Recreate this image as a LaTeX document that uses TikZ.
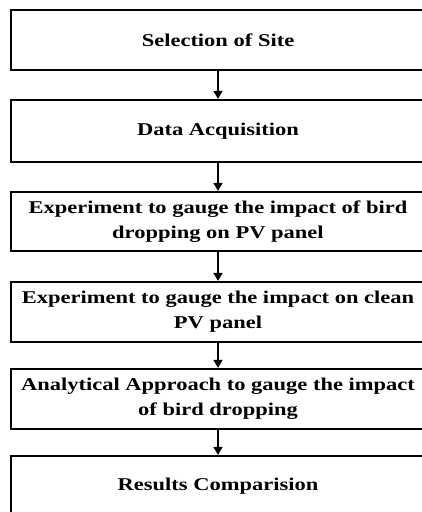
\documentclass[tikz,border=0pt]{standalone}
\usepackage{fontspec}
\setmainfont{Liberation Serif}[FakeStretch=1.25]
\usepackage{tikz}
\usetikzlibrary{arrows.meta}

\tikzset{
  stage/.style={draw, line width=2.2pt, minimum width=414pt, minimum height=60pt,
    align=center, inner sep=0pt, font=\fontsize{18}{25}\selectfont\bfseries},
  flow/.style={line width=1.6pt, -{Triangle[length=8pt,width=9pt]}}
}

\begin{document}
\begin{tikzpicture}[x=1pt,y=-1pt]
\useasboundingbox (0,0) rectangle (422,512);
\clip (0,0) rectangle (422,512);

%% stages
\node[stage] (site)    at (218,40)  {Selection of Site};
\node[stage, minimum height=62pt] (data) at (218,131) {Data Acquisition};
\node[stage, minimum height=59pt] (bird) at (218,221.5) {Experiment to gauge the impact of bird\\dropping on PV panel};
\node[stage] (clean)   at (218,312) {Experiment to gauge the impact on clean\\PV panel};
\node[stage] (analyt)  at (218,399) {Analytical Approach to gauge the impact\\of bird dropping};
\node[stage] (result)  at (218,486) {Results Comparision};

%% arrows
\draw[flow] (site)  -- (data);
\draw[flow] (data)  -- (bird);
\draw[flow] (bird)  -- (clean);
\draw[flow] (clean) -- (analyt);
\draw[flow] (analyt) -- (result);
\end{tikzpicture}
\end{document}
